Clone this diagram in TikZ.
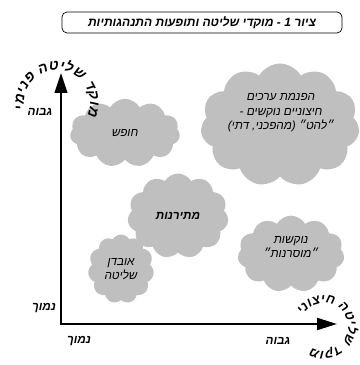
\documentclass[tikz,border=0pt]{standalone}
\usepackage{fontspec}
\setmainfont{Liberation Sans}
\newfontfamily\hebfont[Script=Hebrew]{Liberation Sans}
\TeXXeTstate=1
\usetikzlibrary{arrows.meta,shapes.symbols,decorations.text}

\tikzset{
  cloudnode/.style={cloud, cloud puffs=11, cloud puff arc=120, cloud ignores aspect,
    fill=black!25, inner sep=0pt, align=center,
    font=\hebfont\itshape\fontsize{10}{12.5}\selectfont},
  cloudtext/.style={align=center, inner sep=0pt, font=\hebfont\itshape\fontsize{10}{12.5}\selectfont},
  axislabel/.style={font=\hebfont\bfseries\itshape\fontsize{10}{12}\selectfont},
  arctext/.style={decorate, decoration={text along path, text align=fit to path}}
}

\begin{document}
\begin{tikzpicture}[x=0.3mm, y=0.3mm]
    \useasboundingbox (0,0) rectangle (359,365);

    % כותרת
    \node[draw, rounded corners=1.5mm, line width=0.6pt, minimum width=84mm, minimum height=6.3mm,
      font=\hebfont\bfseries\itshape\fontsize{10.3}{12}\selectfont] (title) at (202,342.5)
      {\beginR ציור 1 - מוקדי שליטה ותופעות התנהגותיות\endR};

    % עננים
    \node[cloudnode, minimum width=33mm, minimum height=20.5mm] (freedom) at (125,232) {\beginR חופש\endR};
    \node[cloudnode, minimum width=47.7mm, minimum height=36.9mm] (internalbg) at (280,240) {};
    \node[cloudtext] (internal) at (281,252)
      {\beginR הפנמת ערכים\endR\\\beginR חיצוניים נוקשים -\endR\\\beginR ״להט״ (מהפכני, דתי)\endR};
    \node[cloudnode, minimum width=30.3mm, minimum height=25.5mm,
      font=\hebfont\bfseries\itshape\fontsize{10}{12}\selectfont] (permissive) at (178,149) {\beginR מתירנות\endR};
    \node[cloudnode, minimum width=19.8mm, minimum height=20.7mm] (lossctl) at (121,96)
      {\beginR אובדן\endR\\\beginR שליטה\endR};
    \node[cloudnode, minimum width=32mm, minimum height=23mm] (rigidbg) at (291,111) {};
    \node[cloudtext] (rigid) at (291,118)
      {\beginR נוקשות\endR\\\beginR ״מוסרנות״\endR};

    % צירים
    \coordinate (origin) at (61,41);
    \coordinate (ytip) at (61,292);
    \coordinate (xtip) at (337,41);
    \draw[line width=1.8pt, {Triangle[length=6mm,width=3.8mm]}-{Triangle[length=6mm,width=3.6mm]}]
      (ytip) -- (origin) -- (xtip);

    % תוויות הצירים
    \node[axislabel] (yhigh) at (40,253) {\beginR גבוה\endR};
    \node[axislabel] (ylow) at (44,57) {\beginR נמוך\endR};
    \node[axislabel] (xlow) at (79,24) {\beginR נמוך\endR};
    \node[axislabel] (xhigh) at (278,24) {\beginR גבוה\endR};

    % כיתוב מעוגל סביב ראשי החצים (אות אחר אות, בסדר הפוך)
    \coordinate (ycenter) at (57,262);
    \path[arctext, decoration={text={|\hebfont\bfseries\itshape\fontsize{12}{14}\selectfont|ימינפ הטילש דקומ}}]
      (ycenter) ++(191:9.9mm) arc[start angle=191, end angle=-23, radius=9.9mm];
    \coordinate (xcenter) at (324,38);
    \path[arctext, decoration={text={|\hebfont\bfseries\itshape\fontsize{11}{13}\selectfont|ינוציח הטילש דקומ}}]
      (xcenter) ++(150:7.2mm) arc[start angle=150, end angle=-122, radius=7.2mm];
\end{tikzpicture}
\end{document}
